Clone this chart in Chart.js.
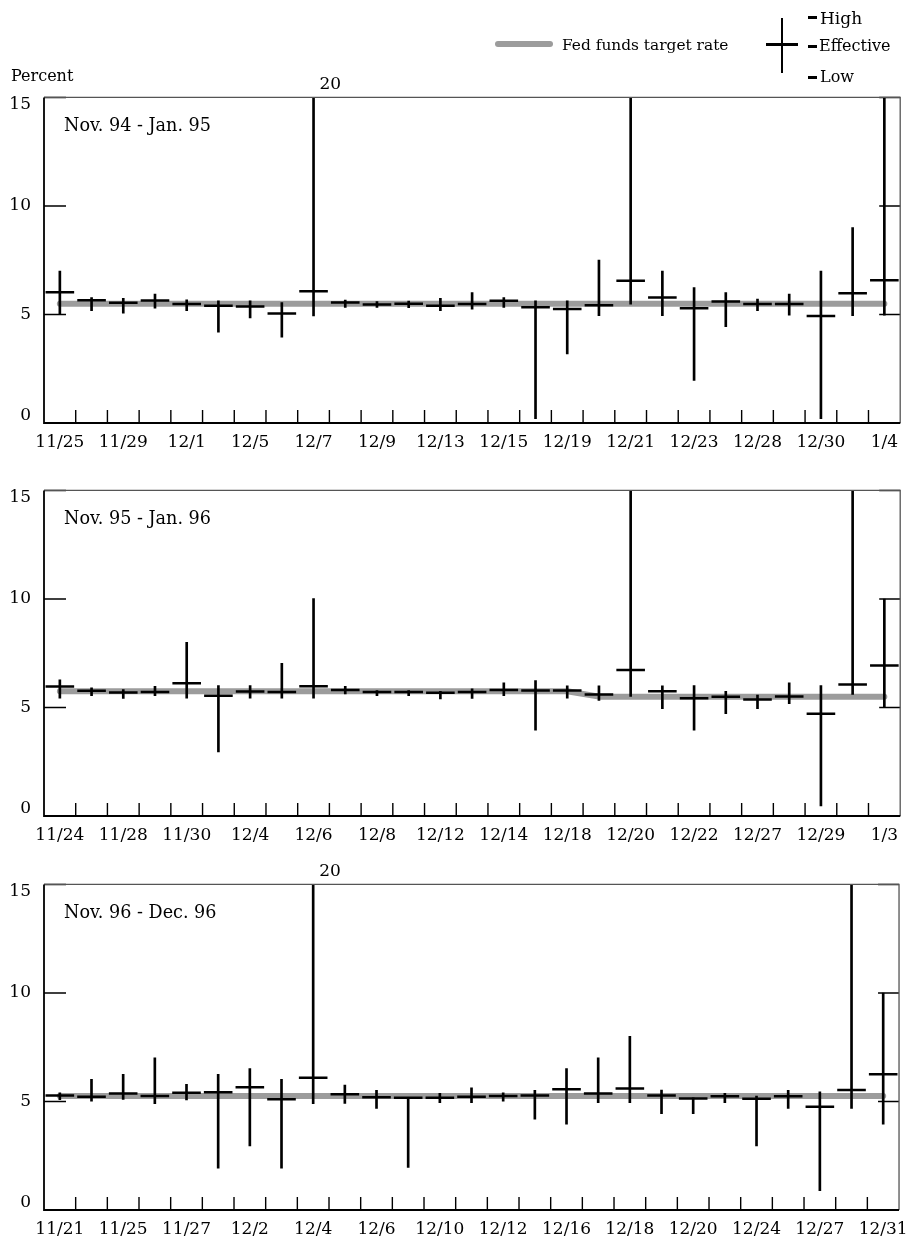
<!DOCTYPE html>
<html><head><meta charset="utf-8">
<script src="https://cdn.jsdelivr.net/npm/chart.js@4.4.1/dist/chart.umd.min.js"></script>
<style>
html,body{margin:0;padding:0;background:#fff;overflow:hidden;}
#wrap{position:relative;width:917px;height:1241px;font-family:'DejaVu Serif',serif;color:#000;}
canvas{position:absolute;left:0;}
.t{position:absolute;font-size:16px;line-height:20px;white-space:nowrap;}
.ln{position:absolute;background:#000;}
</style></head><body>
<div id="wrap">
<canvas id="c1" width="917" height="383" style="top:70px;width:917px;height:383px"></canvas>
<canvas id="c2" width="917" height="383" style="top:463px;width:917px;height:383px"></canvas>
<canvas id="c3" width="917" height="383" style="top:857px;width:917px;height:383px"></canvas>

<div class="t" style="left:11px;top:66px">Percent</div>
<div style="position:absolute;left:495px;top:41px;width:58px;height:6px;border-radius:3px;background:#9c9c9c"></div>
<div class="t" style="left:562px;top:35px;font-size:15.4px">Fed funds target rate</div>
<div class="ln" style="left:781px;top:18px;width:2px;height:55px"></div>
<div class="ln" style="left:766px;top:43px;width:32px;height:2.5px"></div>
<div class="ln" style="left:808px;top:16px;width:9px;height:2.5px"></div>
<div class="ln" style="left:808px;top:45px;width:9px;height:2.5px"></div>
<div class="ln" style="left:808px;top:76px;width:9px;height:2.5px"></div>
<div class="t" style="left:820px;top:8px;font-size:17px">High</div>
<div class="t" style="left:819px;top:36px">Effective</div>
<div class="t" style="left:820px;top:67px">Low</div>
</div>
<script>
// ---- Panel 1: Nov. 94 - Jan. 95 ----
const dates1 = ['11/25','11/28','11/29','11/30','12/1','12/2','12/5','12/6','12/7','12/8','12/9','12/12','12/13','12/14','12/15','12/16','12/19','12/20','12/21','12/22','12/23','12/27','12/28','12/29','12/30','1/3','1/4'];
const high1 = [7.0,5.78,5.75,5.94,5.68,5.63,5.63,5.55,20,5.66,5.59,5.62,5.75,6.01,5.78,5.63,5.63,7.51,15,7.0,6.24,6.01,5.71,5.94,7.0,9.0,15];
const eff1  = [6.03,5.66,5.54,5.65,5.48,5.40,5.37,5.05,6.07,5.55,5.46,5.49,5.40,5.48,5.63,5.33,5.25,5.43,6.55,5.78,5.29,5.60,5.48,5.48,4.93,5.98,6.58];
const low1  = [5.0,5.17,5.06,5.29,5.17,4.18,4.84,3.95,4.93,5.33,5.33,5.31,5.17,5.25,5.33,0.2,3.18,4.94,5.48,4.94,1.96,4.44,5.17,4.97,0.2,4.94,4.97];
const target1 = [5.5,5.5,5.5,5.5,5.5,5.5,5.5,5.5,5.5,5.5,5.5,5.5,5.5,5.5,5.5,5.5,5.5,5.5,5.5,5.5,5.5,5.5,5.5,5.5,5.5,5.5,5.5];

// ---- Panel 2: Nov. 95 - Jan. 96 ----
const dates2 = ['11/24','11/27','11/28','11/29','11/30','12/1','12/4','12/5','12/6','12/7','12/8','12/11','12/12','12/13','12/14','12/15','12/18','12/19','12/20','12/21','12/22','12/26','12/27','12/28','12/29','1/2','1/3'];
const high2 = [6.27,5.91,5.83,5.98,8.0,6.01,6.01,7.04,10.02,5.98,5.78,5.78,5.75,5.86,6.14,6.24,6.0,6.0,15,6.0,6.01,5.75,5.57,6.14,6.01,15,10.0];
const eff2  = [5.97,5.77,5.69,5.71,6.12,5.54,5.74,5.71,5.98,5.81,5.71,5.71,5.68,5.71,5.81,5.78,5.78,5.60,6.73,5.75,5.43,5.49,5.37,5.51,4.71,6.06,6.93];
const low2  = [5.43,5.54,5.42,5.54,5.43,2.95,5.43,5.43,5.43,5.63,5.55,5.55,5.39,5.42,5.54,3.95,5.43,5.33,5.51,4.94,3.95,4.71,4.94,5.17,0.46,5.60,4.99];
const target2 = [5.75,5.75,5.75,5.75,5.75,5.75,5.75,5.75,5.75,5.75,5.75,5.75,5.75,5.75,5.75,5.75,5.75,5.5,5.5,5.5,5.5,5.5,5.5,5.5,5.5,5.5,5.5];

// ---- Panel 3: Nov. 96 - Dec. 96 ----
const dates3 = ['11/21','11/22','11/25','11/26','11/27','11/29','12/2','12/3','12/4','12/5','12/6','12/9','12/10','12/11','12/12','12/13','12/16','12/17','12/18','12/19','12/20','12/23','12/24','12/26','12/27','12/30','12/31'];
const high3 = [5.40,6.02,6.25,7.01,5.79,6.25,6.52,6.02,20,5.76,5.51,5.17,5.37,5.63,5.40,5.51,6.52,7.01,8.0,5.53,5.17,5.37,5.25,5.51,5.45,15,10.0];
const eff3  = [5.28,5.22,5.37,5.25,5.40,5.43,5.66,5.10,6.09,5.33,5.20,5.17,5.17,5.22,5.25,5.28,5.56,5.37,5.60,5.28,5.14,5.24,5.13,5.24,4.76,5.53,6.25];
const low3  = [5.08,5.02,5.10,4.90,5.07,1.93,2.95,1.93,4.90,4.91,4.68,1.96,4.94,4.94,5.02,4.18,3.95,4.94,4.94,4.44,4.44,4.94,2.95,4.68,0.89,4.68,3.95];
const target3 = [5.25,5.25,5.25,5.25,5.25,5.25,5.25,5.25,5.25,5.25,5.25,5.25,5.25,5.25,5.25,5.25,5.25,5.25,5.25,5.25,5.25,5.25,5.25,5.25,5.25,5.25,5.25];

const panelTitles = ['Nov. 94 - Jan. 95', 'Nov. 95 - Jan. 96', 'Nov. 96 - Dec. 96'];
const yTickValues = [0, 5, 10, 15];

const FONT = 'DejaVu Serif';

const framePlugin = {
  id: 'frame',
  afterDraw(chart, args, opts) {
    const ctx = chart.ctx, a = chart.chartArea, xs = chart.scales.x, ys = chart.scales.y;
    ctx.save();
    ctx.strokeStyle = '#000';
    ctx.lineWidth = 1.4;
    ctx.beginPath();
    const n = chart.data.labels.length;
    for (let i = 1; i < n; i++) {
      const px = (xs.getPixelForValue(i - 1) + xs.getPixelForValue(i)) / 2;
      ctx.moveTo(px, a.bottom); ctx.lineTo(px, a.bottom - 13);
    }
    ys.ticks.forEach(t => {
      const py = ys.getPixelForValue(t.value);
      ctx.moveTo(a.left, py); ctx.lineTo(a.left + 22, py);
      ctx.moveTo(a.right, py); ctx.lineTo(a.right - 21, py);
    });
    ctx.stroke();
    ctx.strokeStyle = '#555'; ctx.lineWidth = 1.3;
    ctx.beginPath(); ctx.moveTo(a.left, a.top); ctx.lineTo(a.right, a.top); ctx.lineTo(a.right, a.bottom); ctx.stroke();
    ctx.strokeStyle = '#000'; ctx.lineWidth = 1.8;
    ctx.beginPath(); ctx.moveTo(a.left, a.top); ctx.lineTo(a.left, a.bottom); ctx.lineTo(a.right, a.bottom); ctx.stroke();
    ctx.fillStyle = '#000';
    ctx.textAlign = 'left'; ctx.textBaseline = 'alphabetic';
    ctx.font = '17.6px "' + FONT + '"';
    ctx.fillText(opts.label, a.left + 20, a.top + 34);
    ctx.font = '17px "' + FONT + '"';
    opts.high.forEach((v, i) => {
      if (v > ys.max) ctx.fillText(String(v), xs.getPixelForValue(i) + 6, a.top - 8);
    });
    ctx.restore();
  }
};

function makeChart(id, labels, high, eff, low, target, title) {
  return new Chart(document.getElementById(id), {
    type: 'bar',
    data: {
      labels: labels,
      datasets: [
        { type: 'line', label: 'Fed funds target rate', data: target, borderColor: '#9c9c9c', borderWidth: 6,
          pointRadius: 0, borderCapStyle: 'round', borderJoinStyle: 'round', tension: 0, order: 3 },
        { type: 'bar', label: 'Low-High', data: labels.map((_, i) => [low[i], high[i]]), backgroundColor: '#000',
          barThickness: 2, borderWidth: 0, order: 2, clip: 0 },
        { type: 'line', label: 'Effective', data: eff, showLine: false, pointStyle: 'line', pointRadius: 14.3,
          pointBorderColor: '#000', pointBorderWidth: 2.5, borderColor: '#000', order: 1 }
      ]
    },
    options: {
      responsive: false, animation: false, events: [], devicePixelRatio: 1,
      layout: { padding: { top: 26, right: 15, bottom: 0, left: 0 } },
      plugins: { legend: { display: false }, tooltip: { enabled: false }, frame: { label: title, high: high } },
      scales: {
        x: {
          type: 'category', offset: true,
          grid: { display: false, drawTicks: false }, border: { display: false },
          ticks: { autoSkip: false, maxRotation: 0, minRotation: 0, padding: 9, color: '#000',
            font: { family: FONT, size: 17 },
            callback: function (val, idx) { return idx % 2 === 0 ? this.getLabelForValue(val) : ''; } },
          afterFit: s => { s.height = 30; }
        },
        y: {
          min: 0, max: 15,
          afterBuildTicks: s => { s.ticks = yTickValues.map(v => ({ value: v })); },
          grid: { display: false, drawTicks: false }, border: { display: false },
          ticks: { padding: 13, color: '#000', font: { family: FONT, size: 17, lineHeight: 0.85 },
            callback: function (v) { return v === this.max ? ['', String(v)] : (v === this.min ? [String(v), ''] : String(v)); } },
          afterFit: s => { s.width = 44; }
        }
      }
    },
    plugins: [framePlugin]
  });
}

makeChart('c1', dates1, high1, eff1, low1, target1, panelTitles[0]);
makeChart('c2', dates2, high2, eff2, low2, target2, panelTitles[1]);
makeChart('c3', dates3, high3, eff3, low3, target3, panelTitles[2]);
</script>
</body></html>
